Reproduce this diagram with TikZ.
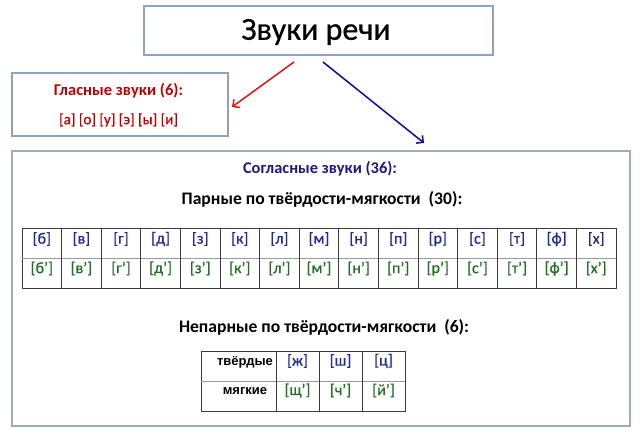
\documentclass[tikz,border=0pt]{standalone}
\usepackage{fontspec}
\setmainfont{Carlito}
\newfontfamily\arialf{Liberation Sans}[BoldFont={Liberation Sans Bold}]
\newfontfamily\medf{Carlito}[BoldFont=Carlito, BoldFeatures={FakeBold=0.6}]
\usetikzlibrary{arrows.meta}
\definecolor{boxline}{HTML}{8EA3BD}
\definecolor{consline}{HTML}{9CADBA}
\definecolor{vred}{HTML}{C00000}
\definecolor{ared}{HTML}{E01515}
\definecolor{ablue}{HTML}{0A0AA0}
\definecolor{navy}{HTML}{1A1A80}
\definecolor{hardc}{HTML}{1F2A99}
\definecolor{softc}{HTML}{217021}
\definecolor{tline}{HTML}{3A3A3A}
\tikzset{
  framebox/.style={draw=boxline, line width=1.5pt, fill=white, inner sep=0pt},
  consbox/.style={draw=consline, line width=2pt, fill=white, inner sep=0pt},
  txt/.style={inner sep=0pt, anchor=center},
  hardl/.style={txt, text=hardc, font=\medf\bfseries\fontsize{16}{18}\selectfont},
  softl/.style={txt, text=softc, font=\medf\bfseries\fontsize{16}{18}\selectfont},
  heading/.style={txt, font=\bfseries\fontsize{17.6}{20}\selectfont},
  grid/.style={draw=tline, line width=0.9pt},
  arrowline/.style={line width=1.5pt, -{Straight Barb[length=5pt,width=10pt,line width=1.5pt]}},
  rowlabel/.style={inner sep=0pt, anchor=base, font=\fontsize{13}{15}\selectfont\arialf\bfseries}
}
\begin{document}
\begin{tikzpicture}[x=1pt,y=-1pt]
\useasboundingbox (0,0) rectangle (640,430);
\fill[white] (0,0) rectangle (640,430);
% boxes
\node[framebox, minimum width=349pt, minimum height=49pt] (title) at (318.5,30.5) {};
\node[txt, font=\medf\bfseries\fontsize{32}{36}\selectfont] (titletext) at (316,32) {Звуки речи};
\node[framebox, minimum width=216pt, minimum height=63pt] (vowels) at (120,104.5) {};
\node[consbox, minimum width=618pt, minimum height=275pt] (cons) at (321,288.5) {};
% vowels text
\node[txt, text=vred, font=\bfseries\fontsize{16.5}{19}\selectfont] (vhead) at (118.5,91) {Гласные звуки (6):};
\node[txt, text=vred, font=\medf\bfseries\fontsize{15}{18}\selectfont] (vlist) at (118.5,120) {[а] [о] [у] [э] [ы] [и]};
% arrows
\coordinate (rs) at (294,62);
\coordinate (re) at (232,107);
\coordinate (bs) at (323,62);
\coordinate (be) at (424,143);
\draw[arrowline, ared] (rs) -- (re);
\draw[arrowline, ablue] (bs) -- (be);
% consonant headings
\node[txt, text=navy, font=\bfseries\fontsize{16.4}{19}\selectfont] (chead) at (320,169) {Согласные звуки (36):};
\node[heading] (paired) at (322,199) {Парные по твёрдости-мягкости\ \ (30):};
\node[heading] (unpaired) at (324,327) {Непарные по твёрдости-мягкости\ \ (6):};
% paired table
\draw[grid] (22,228) rectangle (616,288);
\draw[draw=gray!80, line width=0.9pt] (22,258) -- (616,258);
\foreach \i in {1,...,14} {\draw[grid] (22+\i*39.6,228) -- (22+\i*39.6,288);}
\foreach \l [count=\i from 0] in {б,в,г,д,з,к,л,м,н,п,р,с,т,ф,х} {
  \node[hardl] (h\i) at (41.8+39.6*\i,239) {[\l]};
  \node[softl] (s\i) at (41.8+39.6*\i,268.5) {[\l’]};
}
% unpaired table
\draw[grid] (201,351) rectangle (405,411);
\draw[draw=gray!80, line width=0.9pt] (201,381) -- (405,381);
\foreach \x in {276,319,362} {\draw[grid] (\x,351) -- (\x,411);}
\node[rowlabel] (hardlabel) at (245,365) {твёрдые};
\node[rowlabel] (softlabel) at (245,394) {мягкие};
\node[hardl] (zh) at (297.5,361) {[ж]};
\node[hardl] (sh) at (340.5,361) {[ш]};
\node[hardl] (ts) at (383.5,361) {[ц]};
\node[softl] (shch) at (297.5,390.5) {[щ’]};
\node[softl] (ch) at (340.5,390.5) {[ч’]};
\node[softl] (j) at (383.5,390.5) {[й’]};
\end{tikzpicture}
\end{document}
